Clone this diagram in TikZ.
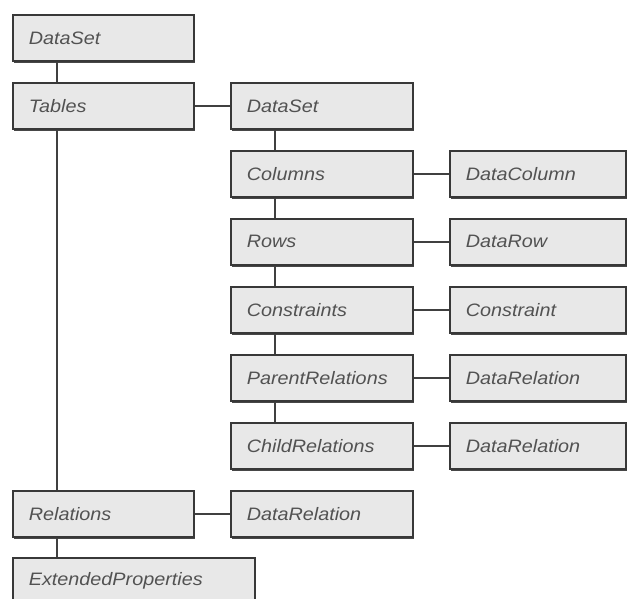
\documentclass[tikz,border=0pt]{standalone}
\usepackage{fontspec}
\setmainfont{Liberation Sans}[FakeStretch=1.1]
\usetikzlibrary{shadows}
\tikzset{
  box/.style={draw=black!78, line width=1.6pt, fill=black!9, anchor=north west,
    minimum height=46pt, inner xsep=16pt, text width=#1, align=left,
    font=\fontsize{18}{20}\selectfont\itshape, text=black!68,
    general shadow={shadow xshift=1.6pt, shadow yshift=-1.8pt, fill=black!72}},
  box/.default=149pt,
  link/.style={draw=black!75, line width=1.6pt}
}
\begin{document}
\begin{tikzpicture}[x=1pt,y=-1pt]
\useasboundingbox (0,0) rectangle (627,598);
\node[box] (ds) at (12,14) {DataSet};
\node[box] (tables) at (12,82) {Tables};
\node[box=150pt] (ds2) at (230,82) {DataSet};
\node[box=150pt] (columns) at (230,150) {Columns};
\node[box=144pt] (datacolumn) at (449,150) {DataColumn};
\node[box=150pt] (rows) at (230,218) {Rows};
\node[box=144pt] (datarow) at (449,218) {DataRow};
\node[box=150pt] (constraints) at (230,286) {Constraints};
\node[box=144pt] (constraint) at (449,286) {Constraint};
\node[box=150pt] (parent) at (230,354) {ParentRelations};
\node[box=144pt] (rel1) at (449,354) {DataRelation};
\node[box=150pt] (child) at (230,422) {ChildRelations};
\node[box=144pt] (rel2) at (449,422) {DataRelation};
\node[box] (relations) at (12,490) {Relations};
\node[box=150pt] (rel3) at (230,490) {DataRelation};
\node[box=210pt] (ext) at (12,557) {ExtendedProperties};
% vertical trunks
\path[link] ([xshift=45pt]ds.south west) -- ([xshift=45pt]tables.north west);
\path[link] ([xshift=45pt]tables.south west) -- ([xshift=45pt]relations.north west);
\path[link] ([xshift=45pt]relations.south west) -- ([xshift=45pt]ext.north west);
\path[link] ([xshift=45pt]ds2.south west) -- ([xshift=45pt]columns.north west);
\path[link] ([xshift=45pt]columns.south west) -- ([xshift=45pt]rows.north west);
\path[link] ([xshift=45pt]rows.south west) -- ([xshift=45pt]constraints.north west);
\path[link] ([xshift=45pt]constraints.south west) -- ([xshift=45pt]parent.north west);
\path[link] ([xshift=45pt]parent.south west) -- ([xshift=45pt]child.north west);
% horizontal branches
\path[link] (tables.east) -- (ds2.west);
\path[link] (columns.east) -- (datacolumn.west);
\path[link] (rows.east) -- (datarow.west);
\path[link] (constraints.east) -- (constraint.west);
\path[link] (parent.east) -- (rel1.west);
\path[link] (child.east) -- (rel2.west);
\path[link] (relations.east) -- (rel3.west);
\end{tikzpicture}
\end{document}
